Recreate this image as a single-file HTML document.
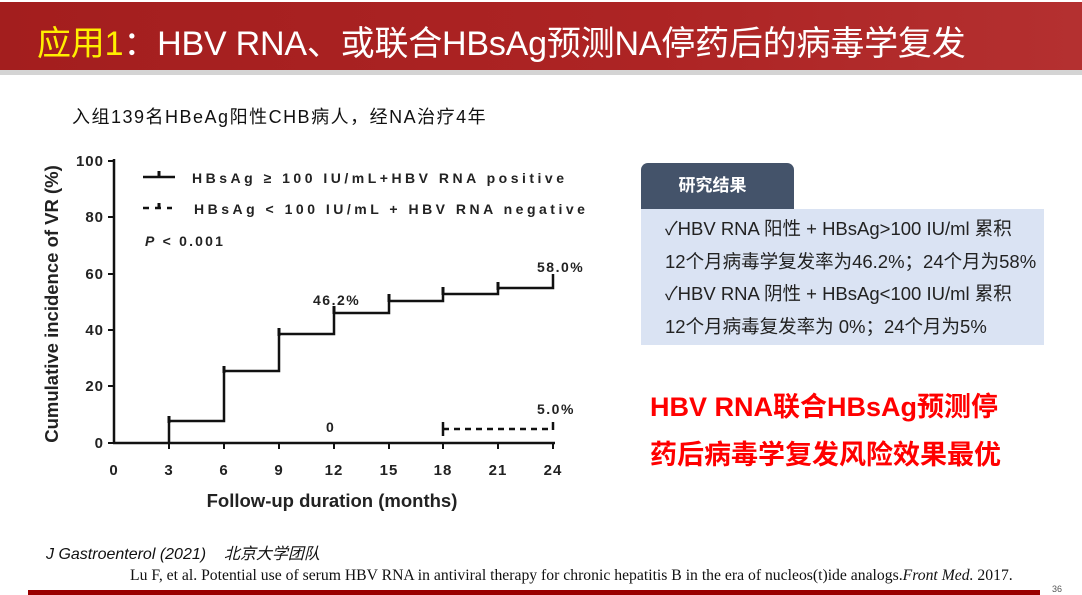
<!DOCTYPE html>
<html><head><meta charset="utf-8">
<style>
*{margin:0;padding:0;box-sizing:border-box}
body{width:1082px;height:595px;background:#fff;position:relative;overflow:hidden;font-family:"Liberation Sans","Noto Sans CJK SC",sans-serif}
.hdr{position:absolute;left:0;top:2px;width:1082px;height:68px;background:linear-gradient(90deg,#a31e1e,#ad2424 60%,#b43030);}
.gl{position:absolute;left:0;top:70px;width:1082px;height:5px;background:#d4d4d4}
.title{position:absolute;left:37px;top:16px;font-size:34px;color:#fff;white-space:nowrap;letter-spacing:-0.2px;font-family:"Liberation Sans","Noto Sans CJK SC",sans-serif}
.title span{color:#ffef00}
.t{position:absolute;white-space:nowrap}
.box1{position:absolute;left:641px;top:163px;width:153px;height:46px;background:#44536a;border-radius:7px 7px 0 0;color:#fff;font-size:17px;font-weight:bold;text-align:center;line-height:46px;padding-right:10px}
.box2{position:absolute;left:641px;top:209px;width:403px;height:136px;background:#dae3f3;font-size:18.5px;color:#222;line-height:32.5px;padding:4px 0 0 24px;white-space:nowrap}
.red{position:absolute;left:650px;font-size:27px;font-weight:bold;color:#ff0000;white-space:nowrap}
</style></head><body>
<div class="hdr"></div><div class="gl"></div>
<div class="title"><span>应用1</span>：HBV RNA、或联合HBsAg预测NA停药后的病毒学复发</div>
<div class="t" style="left:72px;top:103px;font-size:18px;letter-spacing:1.5px;color:#111">入组139名HBeAg阳性CHB病人，经NA治疗4年</div>
<svg style="position:absolute;left:0;top:0" width="640" height="520">
<g font-family="Liberation Sans" font-weight="bold" fill="#222" font-size="15">
<line x1="114" y1="159" x2="114" y2="444" stroke="#111" stroke-width="2.5"/>
<line x1="113" y1="443" x2="555" y2="443" stroke="#111" stroke-width="2.5"/>
<g stroke="#111" stroke-width="2">
<line x1="108" y1="161" x2="114" y2="161"/><line x1="108" y1="217" x2="114" y2="217"/><line x1="108" y1="274" x2="114" y2="274"/><line x1="108" y1="330" x2="114" y2="330"/><line x1="108" y1="386" x2="114" y2="386"/><line x1="108" y1="443" x2="114" y2="443"/>
<line x1="169" y1="443" x2="169" y2="449"/><line x1="224" y1="443" x2="224" y2="449"/><line x1="279" y1="443" x2="279" y2="449"/><line x1="334" y1="443" x2="334" y2="449"/><line x1="389" y1="443" x2="389" y2="449"/><line x1="443" y1="443" x2="443" y2="449"/><line x1="498" y1="443" x2="498" y2="449"/><line x1="553" y1="443" x2="553" y2="449"/>
</g>
<g text-anchor="end" letter-spacing="1"><text x="104" y="166">100</text><text x="104" y="222">80</text><text x="104" y="279">60</text><text x="104" y="335">40</text><text x="104" y="391">20</text><text x="104" y="448">0</text></g>
<g text-anchor="middle" letter-spacing="1"><text x="114" y="475">0</text><text x="169" y="475">3</text><text x="224" y="475">6</text><text x="279" y="475">9</text><text x="334" y="475">12</text><text x="389" y="475">15</text><text x="443" y="475">18</text><text x="498" y="475">21</text><text x="553" y="475">24</text></g>
<text x="332" y="507" text-anchor="middle" font-size="18.5">Follow-up duration (months)</text>
<text transform="translate(58,304) rotate(-90)" text-anchor="middle" font-size="18.5">Cumulative incidence of VR (%)</text>
<polyline fill="none" stroke="#111" stroke-width="2.5" points="169,443 169,421 224,421 224,371 279,371 279,334 334,334 334,313 389,313 389,301 443,301 443,294 498,294 498,288 553,288 553,274"/>
<g stroke="#111" stroke-width="3"><line x1="169" y1="416" x2="169" y2="423"/><line x1="224" y1="366" x2="224" y2="373"/><line x1="279" y1="328" x2="279" y2="336"/><line x1="334" y1="306" x2="334" y2="314"/><line x1="389" y1="294" x2="389" y2="302"/><line x1="443" y1="287" x2="443" y2="295"/><line x1="498" y1="282" x2="498" y2="290"/></g>
<line x1="443" y1="429" x2="553" y2="429" stroke="#111" stroke-width="2.5" stroke-dasharray="6,5"/>
<line x1="443" y1="422" x2="443" y2="436" stroke="#111" stroke-width="2.5"/><line x1="553" y1="422" x2="553" y2="430" stroke="#111" stroke-width="2.5"/>
<g font-size="14" letter-spacing="1.5"><text x="313" y="305">46.2%</text><text x="537" y="272">58.0%</text><text x="537" y="414">5.0%</text><text x="326" y="432">0</text></g>
<line x1="143" y1="177" x2="175" y2="177" stroke="#111" stroke-width="2.5"/><line x1="159" y1="171" x2="159" y2="177" stroke="#111" stroke-width="3"/>
<line x1="143" y1="208" x2="172" y2="208" stroke="#111" stroke-width="2.5" stroke-dasharray="6,6"/><line x1="159" y1="203" x2="159" y2="208" stroke="#111" stroke-width="3"/>
<g font-size="14" letter-spacing="3.5"><text x="192" y="183">HBsAg ≥ 100 IU/mL+HBV RNA positive</text><text x="194" y="214">HBsAg &lt; 100 IU/mL + HBV RNA negative</text></g>
<text x="145" y="246" font-size="14" letter-spacing="2.2"><tspan font-style="italic">P</tspan> &lt; 0.001</text>
</g></svg>
<div class="box1">研究结果</div>
<div class="box2">✓HBV RNA 阳性 + HBsAg&gt;100 IU/ml 累积<br>12个月病毒学复发率为46.2%；24个月为58%<br>✓HBV RNA 阴性 + HBsAg&lt;100 IU/ml 累积<br>12个月病毒复发率为 0%；24个月为5%</div>
<div class="red" style="top:385px">HBV RNA联合HBsAg预测停</div>
<div class="red" style="top:433px">药后病毒学复发风险效果最优</div>
<div class="t" style="left:46px;top:540px;font-size:16px;font-style:italic;color:#111">J Gastroenterol (2021)&nbsp;&nbsp;&nbsp; 北京大学团队</div>
<div class="t" style="left:130px;top:567px;font-size:15.7px;font-family:'Liberation Serif',serif;color:#111">Lu F, et al. Potential use of serum HBV RNA in antiviral therapy for chronic hepatitis B in the era of nucleos(t)ide analogs.<i>Front Med.</i> 2017.</div>
<div style="position:absolute;left:28px;top:590px;width:1012px;height:5px;background:#9a0000"></div>
<div class="t" style="left:1052px;top:584px;font-size:9px;color:#555">36</div>
</body></html>
